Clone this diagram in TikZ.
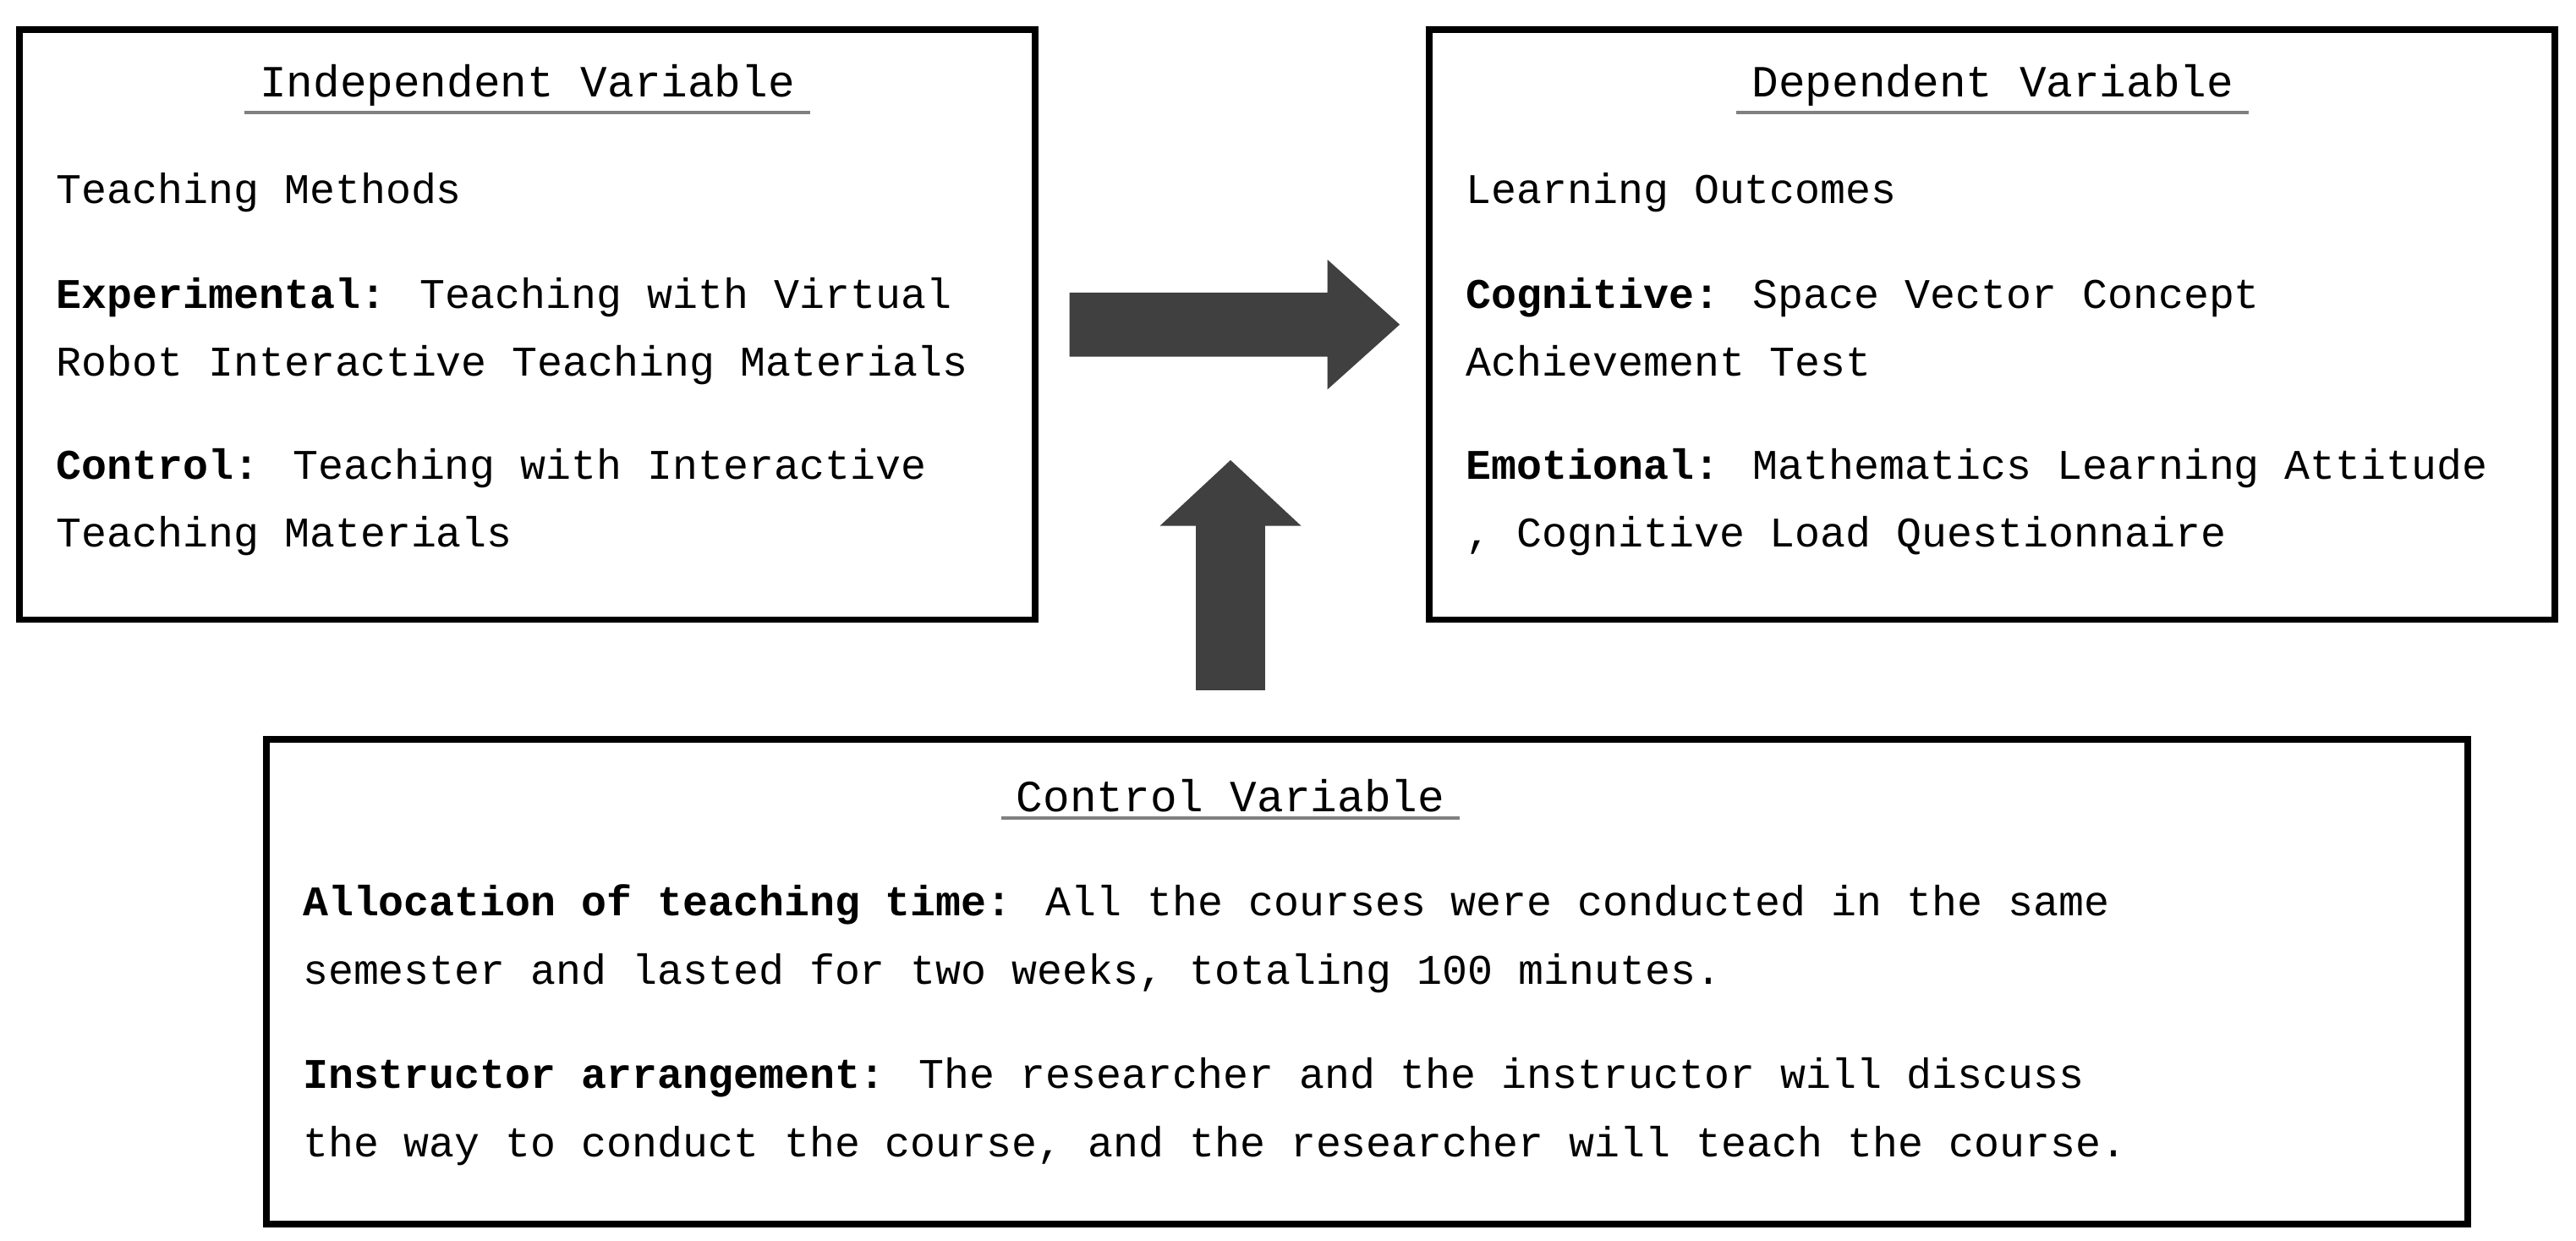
\documentclass[tikz,border=0pt]{standalone}
\usepackage{fontspec}
\setmainfont{Liberation Mono}
\usetikzlibrary{positioning}
\definecolor{arrowgray}{HTML}{404040}
\tikzset{
	box/.style={draw, line width=2.2pt, inner sep=0pt},
	title/.style={font=\fontsize{15}{23}\selectfont, inner sep=2pt},
	para/.style={font=\fontsize{14.2}{23}\selectfont, anchor=base west, align=left, inner sep=0pt},
	bar/.style={gray, line width=1.2pt},
	bigarrow/.style={fill=arrowgray, draw=none}
}
\begin{document}
\begin{tikzpicture}[x=0.019426cm, y=-0.019426cm]
	\useasboundingbox (0,0) rectangle (1568,755);

	%boxes
	\draw [box] (12,18) rectangle (630,377);
	\draw [box] (870,18) rectangle (1555,377);
	\draw [box] (162,450) rectangle (1502,745);

	%titles, each with a gray line under it
	\foreach \name/\label/\xpos/\ypos in {ind/Independent Variable/321/52, dep/Dependent Variable/1213/52, ctl/Control Variable/749/484}
	{
		\node [title] (\name) at (\xpos,\ypos) {\label};
		\draw [bar] ([xshift=-3pt]\name.south west) -- ([xshift=3pt]\name.south east);
	}

	%left text (base = baseline of the last line)
	\node [para] (indHead) at (34,124) {Teaching Methods};
	\node [para] (indExp) at (34,229) {\textbf{Experimental:} Teaching with Virtual\\Robot Interactive Teaching Materials};
	\node [para] (indCtl) at (34,333) {\textbf{Control:} Teaching with Interactive\\Teaching Materials};

	%right text
	\node [para] (depHead) at (892,124) {Learning Outcomes};
	\node [para] (depCog) at (892,229) {\textbf{Cognitive:} Space Vector Concept\\Achievement Test};
	\node [para] (depEmo) at (892,333) {\textbf{Emotional:} Mathematics Learning Attitude\\, Cognitive Load Questionnaire};

	%bottom text
	\node [para] (ctlTime) at (184,599) {\textbf{Allocation of teaching time:} All the courses were conducted in the same\\semester and lasted for two weeks, totaling 100 minutes.};
	\node [para] (ctlInst) at (184,704) {\textbf{Instructor arrangement:} The researcher and the instructor will discuss\\the way to conduct the course, and the researcher will teach the course.};

	%arrows
	\fill [bigarrow] (651,178) -- (808,178) -- (808,158) -- (852,197.5) -- (808,237) -- (808,217) -- (651,217) -- cycle;
	\fill [bigarrow] (728,420) -- (728,320) -- (706,320) -- (749,280) -- (792,320) -- (770,320) -- (770,420) -- cycle;
\end{tikzpicture}
\end{document}
